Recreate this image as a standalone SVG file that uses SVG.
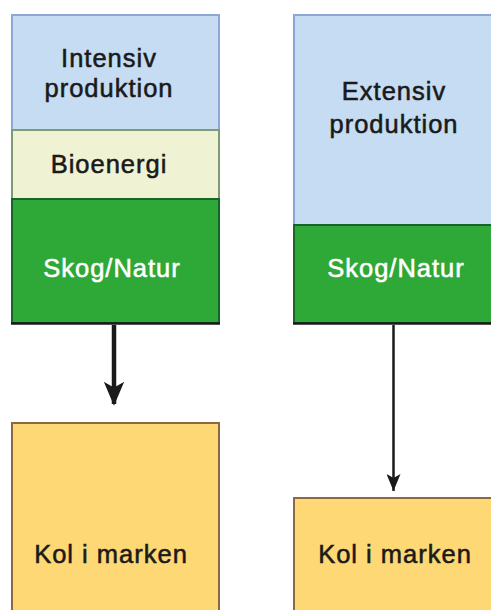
<svg xmlns="http://www.w3.org/2000/svg" width="491" height="610" viewBox="0 0 491 610">
<defs>
<style>
.t{font-family:"Liberation Sans",Arial,Helvetica,sans-serif;font-size:25.5px;letter-spacing:1px;text-anchor:middle;fill:#1a1a1a;stroke:#1a1a1a;stroke-width:0.55px}
.w{fill:#ffffff;stroke:#ffffff}
.blue{fill:#c6dcf2;stroke:#8ea6d6;stroke-width:2}
.bio{fill:#eff3d3;stroke:#7f9a77;stroke-width:2}
.green{fill:#2ea836;stroke:#17652c;stroke-width:2}
.yel{fill:#fdd874;stroke:#8b6a42;stroke-width:2}
.base{stroke:#1a1a1a;stroke-width:2.5}
</style>
<marker id="ah1" markerUnits="userSpaceOnUse" markerWidth="24" markerHeight="28" refX="24" refY="11" orient="auto" viewBox="0 0 26 22">
<path d="M0,0 L26,11 L0,22 L6,11 Z" fill="#1a1a1a"/>
</marker>
<marker id="ah2" markerUnits="userSpaceOnUse" markerWidth="17" markerHeight="14" refX="17" refY="7" orient="auto" viewBox="0 0 17 14">
<path d="M0,0 L17,7 L0,14 L4,7 Z" fill="#1a1a1a"/>
</marker>
</defs>
<rect width="491" height="610" fill="#ffffff"/>
<g id="intensiv-produktion">
<rect class="blue" x="12" y="15" width="207" height="115"/>
<text class="t" x="109" y="67">Intensiv</text>
<text class="t" x="109" y="97">produktion</text>
</g>
<g id="bioenergi">
<rect class="bio" x="12" y="130" width="207" height="69"/>
<text class="t" x="109" y="173">Bioenergi</text>
</g>
<g id="skog-natur-left">
<rect class="green" x="12" y="199" width="207" height="124"/>
<line class="base" x1="11" y1="323.5" x2="220" y2="323.5"/>
<text class="t w" x="112" y="277">Skog/Natur</text>
</g>
<g id="extensiv-produktion">
<rect class="blue" x="294" y="15" width="210" height="210"/>
<text class="t" x="394" y="100">Extensiv</text>
<text class="t" x="394" y="133">produktion</text>
</g>
<g id="skog-natur-right">
<rect class="green" x="294" y="225" width="210" height="98"/>
<line class="base" x1="293" y1="323.5" x2="491" y2="323.5"/>
<text class="t w" x="396" y="277">Skog/Natur</text>
</g>
<g id="kol-left">
<rect class="yel" x="12" y="423" width="207" height="200"/>
<text class="t" x="111" y="563">Kol i marken</text>
</g>
<g id="kol-right">
<rect class="yel" x="294" y="498" width="210" height="130"/>
<text class="t" x="395" y="563">Kol i marken</text>
</g>
<g id="connectors">
<line x1="114" y1="325" x2="114" y2="404" stroke="#1a1a1a" stroke-width="4.5" marker-end="url(#ah1)"/>
<line x1="393.5" y1="325" x2="393.5" y2="491" stroke="#1a1a1a" stroke-width="2.5" marker-end="url(#ah2)"/>
</g>
</svg>
